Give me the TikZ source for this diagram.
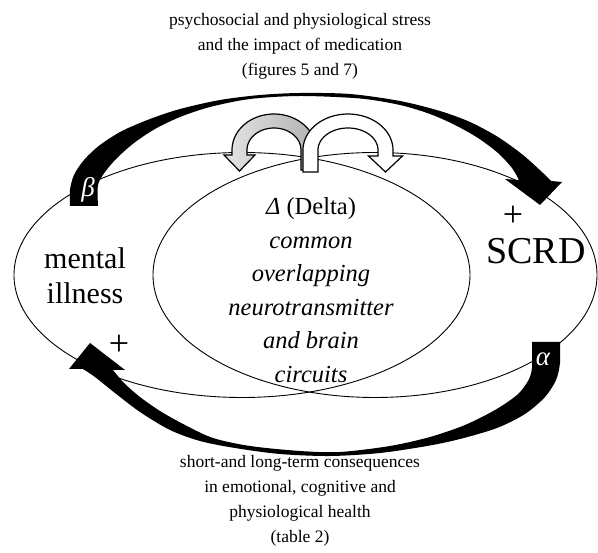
\documentclass[tikz,border=0pt]{standalone}
\usepackage{fontspec}
\setmainfont{Liberation Serif}
\usetikzlibrary{shapes.geometric}
\begin{document}
\begin{tikzpicture}[x=1pt,y=-1pt,
  ring/.style={ellipse, draw, line width=0.9pt, inner sep=0pt, minimum width=#1},
  band/.style={fill=black},
  hollow/.style={draw=black, line width=1.2pt, line join=miter},
  caption/.style={font=\fontsize{17.5}{25}\selectfont, align=center},
  greek/.style={text=white, font=\fontsize{27}{27}\selectfont\itshape, inner sep=0pt},
  sign/.style={font=\fontsize{36}{36}\selectfont, inner sep=0pt}]
\useasboundingbox (0,0) rectangle (598,553);
\fill[white] (0,0) rectangle (598,553);
% the two overlapping sets
\node[ring=456pt, minimum height=245pt] (left) at (242,275) {};
\node[ring=444pt, minimum height=245pt] (right) at (375,275) {};
% upper black arrow (beta)
\fill[band] plot[smooth, tension=0.5] coordinates {(70,206) (70,190) (74,175) (84,160) (100,145) (122,131) (150,119) (180,109) (220,100) (260,95) (300,93) (350,94) (400,101) (440,111) (470,122) (498,137) (523,155) (543,173) (551,181)}
  -- (562,182) -- (540,205) -- (505,179) -- (519,180)
  -- plot[smooth, tension=0.5] coordinates {(519,180) (512,168) (498,153) (478,138) (455,125) (430,114) (400,105) (360,98.5) (300,96) (250,99) (210,107) (180,117) (155,129) (134,143) (117,158) (105,172) (98,185) (98,206)} -- cycle;
% lower black arrow (alpha)
\fill[band] plot[smooth, tension=0.5] coordinates {(560,342) (560,363) (556,380) (545,397) (525,414) (497,428) (460,439) (427,446) (380,453) (330,456) (280,454) (235,448) (200,441) (170,430) (140,412) (115,393) (95,377) (83,369)}
  -- (69,369) -- (90,343) -- (125,370) -- (113,370)
  -- plot[smooth, tension=0.5] coordinates {(113,370) (124,383) (140,397) (160,411) (185,425) (213,438) (250,446) (300,451) (340,452) (390,446) (430,437) (465,425) (495,410) (517,395) (528,381) (532,368) (532,342)} -- cycle;
\node[greek] (beta) at (88,190) {β};
\node[greek] (alpha) at (543,359) {α};
% grey turning arrow
\path[hollow, left color={rgb,255:red,228;green,228;blue,228}, right color={rgb,255:red,178;green,178;blue,178}]
  (316,170) -- (316,150)
  -- plot[domain=0:180, samples=40] ({274+42*cos(\x)}, {150-36*sin(\x)})
  -- (232,155) -- (224,155) -- (239.5,171) -- (255,155) -- (247,155)
  -- plot[domain=180:0, samples=40] ({274+27*cos(\x)}, {150-22*sin(\x)})
  -- (301,170) -- cycle;
% white turning arrow
\path[hollow, fill=white]
  (303,172) -- (303,150)
  -- plot[domain=180:0, samples=40] ({348+45*cos(\x)}, {150-36*sin(\x)})
  -- (393,156) -- (402.5,156) -- (385.5,172) -- (368.5,156) -- (378,156)
  -- plot[domain=0:180, samples=40] ({348+30*cos(\x)}, {150-22*sin(\x)})
  -- (318,172) -- cycle;
% texts
\node[caption] (top) at (300,46) {psychosocial and physiological stress\\and the impact of medication\\(figures 5 and 7)};
\node[caption] (bottom) at (300,501) {short-and long-term consequences\\in emotional, cognitive and\\physiological health\\(table 2)};
\node[font=\fontsize{24.5}{33.5}\selectfont\itshape, align=center] (delta) at (311,290)
  {Δ {\upshape(Delta)}\\common\\overlapping\\neurotransmitter\\and brain\\circuits};
\node[font=\fontsize{30}{35}\selectfont, align=center] (mental) at (85,276) {mental\\illness};
\node[font=\fontsize{38}{40}\selectfont, inner sep=0pt] (scrd) at (536,251) {SCRD};
\node[sign] (plustop) at (513,216) {+};
\node[sign] (plusbottom) at (119,345) {+};
\end{tikzpicture}
\end{document}
